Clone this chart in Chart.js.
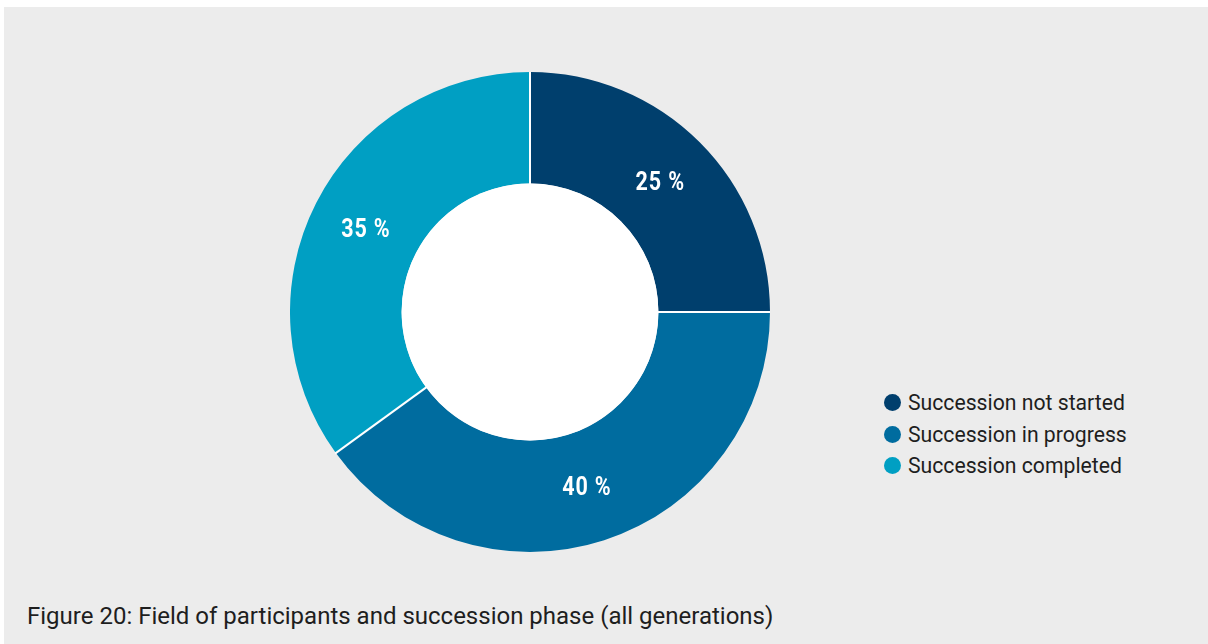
<!DOCTYPE html>
<html>

<head>
    <title>Succession phase</title>
    <script src="https://cdn.jsdelivr.net/npm/chart.js@4.4.2/dist/chart.umd.min.js"></script>
    <style>
        body {
            margin: 0;
            width: 1208px;
            height: 644px;
            background: #ffffff;
            font-family: "Roboto", Arial, sans-serif;
            overflow: hidden;
        }

        .painel {
            position: absolute;
            left: 4px;
            top: 7px;
            width: 1204px;
            height: 637px;
            background: #ececec;
        }

        .grafico {
            position: absolute;
            left: 290px;
            top: 72px;
            width: 480px;
            height: 480px;
        }

        .legenda {
            position: absolute;
            left: 884px;
            top: 387px;
            font-size: 21.2px;
            color: #1e1e1e;
        }

        .legenda div {
            display: flex;
            align-items: center;
            height: 31.5px;
        }

        .legenda span {
            display: inline-block;
            width: 17px;
            height: 17px;
            border-radius: 50%;
            margin-right: 7px;
        }

        .legenda-texto {
            position: absolute;
            left: 27px;
            top: 602px;
            font-size: 24px;
            color: #1e1e1e;
        }
    </style>
</head>

<body>
    <div class="painel"></div>
    <div class="grafico">
        <canvas id="donut" width="480" height="480"></canvas>
    </div>
    <div class="legenda" id="legenda"></div>
    <div class="legenda-texto">Figure 20: Field of participants and succession phase (all generations)</div>

    <script>
        // fases da sucessão (todas as gerações), em %
        const fases = ['Succession not started', 'Succession in progress', 'Succession completed'];
        const percentuais = [25, 40, 35];
        const cores = ['#003f6d', '#006c9f', '#009fc3'];

        // legenda em html, feita a partir dos mesmos arrays
        const legenda = document.getElementById('legenda');
        fases.forEach((fase, i) => {
            const linha = document.createElement('div');
            const bolinha = document.createElement('span');
            bolinha.style.background = cores[i];
            linha.appendChild(bolinha);
            linha.appendChild(document.createTextNode(fase));
            legenda.appendChild(linha);
        });

        // furo branco, divisórias brancas e rótulos "xx %"
        const acabamento = {
            id: 'acabamento',
            afterDatasetsDraw(chart) {
                const ctx = chart.ctx;
                const arcos = chart.getDatasetMeta(0).data;
                const a0 = arcos[0];

                ctx.save();
                ctx.fillStyle = '#ffffff';
                ctx.beginPath();
                ctx.arc(a0.x, a0.y, a0.innerRadius, 0, Math.PI * 2);
                ctx.fill();

                ctx.strokeStyle = '#ffffff';
                ctx.lineWidth = 2;
                arcos.forEach(arco => {
                    const ang = arco.startAngle;
                    ctx.beginPath();
                    ctx.moveTo(arco.x + Math.cos(ang) * (arco.innerRadius - 1), arco.y + Math.sin(ang) * (arco.innerRadius - 1));
                    ctx.lineTo(arco.x + Math.cos(ang) * (arco.outerRadius + 1), arco.y + Math.sin(ang) * (arco.outerRadius + 1));
                    ctx.stroke();
                });

                ctx.fillStyle = '#ffffff';
                ctx.font = 'bold 25px Roboto';
                ctx.letterSpacing = '1px';
                ctx.textAlign = 'center';
                ctx.textBaseline = 'middle';
                arcos.forEach((arco, i) => {
                    const pos = arco.tooltipPosition();
                    ctx.save();
                    ctx.translate(pos.x, pos.y + 2);
                    ctx.scale(0.86, 1);
                    ctx.fillText(percentuais[i] + ' %', 0, 0);
                    ctx.restore();
                });
                ctx.restore();
            }
        };

        new Chart(document.getElementById('donut'), {
            type: 'doughnut',
            data: {
                labels: fases,
                datasets: [{
                    data: percentuais,
                    backgroundColor: cores,
                    borderWidth: 0,
                    hoverOffset: 0
                }]
            },
            options: {
                responsive: false,
                animation: false,
                cutout: '53.5%',
                layout: { padding: 0 },
                plugins: {
                    legend: { display: false },
                    tooltip: { enabled: false }
                }
            },
            plugins: [acabamento]
        });
    </script>
</body>

</html>
